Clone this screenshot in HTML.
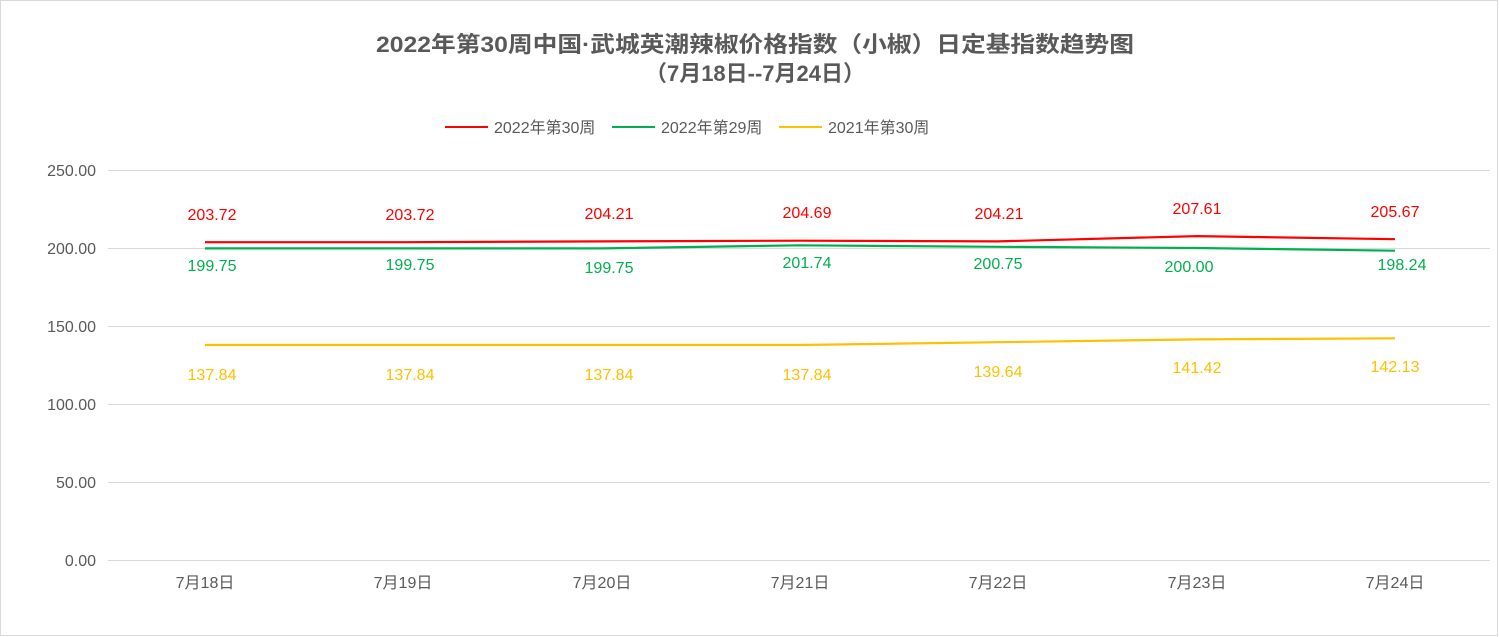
<!DOCTYPE html>
<html><head><meta charset="utf-8"><style>
body{margin:0;background:#fff;}
svg{display:block;font-family:"Liberation Sans","Noto Sans CJK SC",sans-serif;}
</style></head><body>
<svg width="1499" height="637" viewBox="0 0 1499 637">
<rect x="0.5" y="0.5" width="1497" height="635" fill="#fff" stroke="#d9d9d9"/>
<text x="755" y="52" text-anchor="middle" font-size="22" font-weight="bold" fill="#595959" textLength="758" lengthAdjust="spacingAndGlyphs">2022年第30周中国·武城英潮辣椒价格指数（小椒）日定基指数趋势图</text>
<text x="755" y="81" text-anchor="middle" font-size="22" font-weight="bold" fill="#595959">（7月18日--7月24日）</text>
<g font-size="16" fill="#595959">
<line x1="445" y1="127" x2="488" y2="127" stroke="#ff0000" stroke-width="2"/><text x="494" y="133">2022年第30周</text>
<line x1="612" y1="127" x2="655" y2="127" stroke="#00b050" stroke-width="2"/><text x="661" y="133">2022年第29周</text>
<line x1="779" y1="127" x2="822" y2="127" stroke="#ffc000" stroke-width="2"/><text x="828" y="133">2021年第30周</text>
</g>
<g stroke="#d9d9d9" stroke-width="1">
<line x1="108" y1="170.5" x2="1490" y2="170.5"/><line x1="108" y1="248.5" x2="1490" y2="248.5"/>
<line x1="108" y1="326.5" x2="1490" y2="326.5"/><line x1="108" y1="404.5" x2="1490" y2="404.5"/>
<line x1="108" y1="482.5" x2="1490" y2="482.5"/><line x1="108" y1="560.5" x2="1490" y2="560.5"/>
</g>
<g font-size="16" fill="#595959" text-anchor="end">
<text x="96" y="176">250.00</text><text x="96" y="254">200.00</text><text x="96" y="332">150.00</text>
<text x="96" y="410">100.00</text><text x="96" y="488">50.00</text><text x="96" y="566">0.00</text>
</g>
<g font-size="16" fill="#595959" text-anchor="middle">
<text x="205" y="588">7月18日</text><text x="403" y="588">7月19日</text><text x="602" y="588">7月20日</text>
<text x="800" y="588">7月21日</text><text x="998" y="588">7月22日</text><text x="1197" y="588">7月23日</text><text x="1395" y="588">7月24日</text>
</g>
<g fill="none" stroke-width="2.2">
<polyline stroke="#ffc000" points="205,345 403,345 602,345 800,345 998,342.2 1197,339.4 1395,338.3"/>
<polyline stroke="#00b050" points="205,248.4 403,248.4 602,248.4 800,245.3 998,246.8 1197,248 1395,250.7"/>
<polyline stroke="#ff0000" points="205,242.2 403,242.2 602,241.4 800,240.7 998,241.4 1197,236.1 1395,239.2"/>
</g>
<g font-size="16" text-anchor="middle" fill="#ff0000">
<text x="212" y="220">203.72</text><text x="410" y="220">203.72</text><text x="609" y="219">204.21</text>
<text x="807" y="218">204.69</text><text x="999" y="219">204.21</text><text x="1197" y="214">207.61</text><text x="1395" y="217">205.67</text>
</g>
<g font-size="16" text-anchor="middle" fill="#00b050">
<text x="212" y="271">199.75</text><text x="410" y="270">199.75</text><text x="609" y="273">199.75</text>
<text x="807" y="268">201.74</text><text x="998" y="269">200.75</text><text x="1189" y="272">200.00</text><text x="1402" y="270">198.24</text>
</g>
<g font-size="16" text-anchor="middle" fill="#ffc000">
<text x="212" y="380">137.84</text><text x="410" y="380">137.84</text><text x="609" y="380">137.84</text>
<text x="807" y="380">137.84</text><text x="998" y="377">139.64</text><text x="1197" y="373">141.42</text><text x="1395" y="372">142.13</text>
</g>
</svg>
</body></html>
